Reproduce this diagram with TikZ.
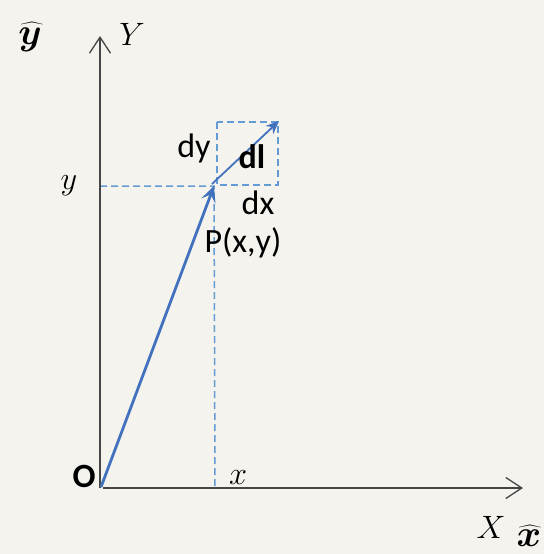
\documentclass[tikz,border=0pt]{standalone}
\usepackage{bm}
\usepackage{fontspec}
\setsansfont{Carlito}
\usetikzlibrary{arrows.meta, positioning, calc}
\definecolor{paper}{RGB}{244, 243, 237}
\definecolor{vecblue}{RGB}{66, 114, 190}
\definecolor{dashblue}{RGB}{100, 155, 212}
\definecolor{axisgray}{RGB}{70, 70, 70}
\newcommand{\axmath}[2]{\scalebox{#1}{\fontsize{24.88}{25}\selectfont$#2$}}

\begin{document}
\begin{tikzpicture}[
  x=1pt, y=-1pt,
  axis/.style={-{Straight Barb[length=16pt, width=21pt, line width=1.3pt]}, line width=1.4pt, axisgray},
  vec/.style={-{Stealth[length=16pt, width=15pt, inset=7pt]}, line width=2.8pt, vecblue},
  dvec/.style={-{Stealth[length=13pt, width=11pt, inset=4pt]}, line width=1.8pt, vecblue},
  guide/.style={dashblue, line width=1.5pt, dash pattern=on 7pt off 4pt},
  lbl/.style={font=\sffamily\fontsize{34}{34}\selectfont, inner sep=0pt},
  blbl/.style={lbl, font=\sffamily\bfseries\fontsize{34}{34}\selectfont},
  mlbl/.style={inner sep=0pt}
]
  \fill[paper] (0,0) rectangle (544,554);
  % points
  \coordinate (O) at (101,487);
  \coordinate (xend) at (523,488);
  \coordinate (yend) at (100,36);
  \coordinate (P) at (214,186);
  \coordinate (Q) at (279,121);
  \coordinate (Px) at (215,488);
  \coordinate (Py) at (100,186);
  % guides
  \draw[guide] (Py) -- (P) -- (Px);
  \draw[guide] (217,122) rectangle (278,185);
  % axes
  \draw[axis] (103,488) -- (xend);
  \draw[axis] (100,488) -- (yend);
  % vectors
  \draw[vec] (O) -- (P);
  \draw[dvec] (212,184) -- (Q);
  % labels
  \node[mlbl] (yhat) at (30,37) {\axmath{1.5}{\bm{\widehat{y}}}};
  \node[mlbl] (Ylbl) at (132,34) {\axmath{1.3}{Y}};
  \node[mlbl] (ylbl) at (69,186) {\axmath{1.3}{y}};
  \node[mlbl] (xlbl) at (238,478) {\axmath{1.3}{x}};
  \node[mlbl] (Xlbl) at (491,527) {\axmath{1.3}{X}};
  \node[mlbl] (xhat) at (529,536) {\axmath{1.5}{\bm{\widehat{x}}}};
  \node[blbl] (Olbl) at (84,476) {O};
  \node[lbl] (dylbl) at (194,148) {dy};
  \node[blbl] (dllbl) at (252,157) {dl};
  \node[lbl] (dxlbl) at (258,203) {dx};
  \node[lbl] (Plbl) at (243,243) {P(x,y)};
\end{tikzpicture}
\end{document}
